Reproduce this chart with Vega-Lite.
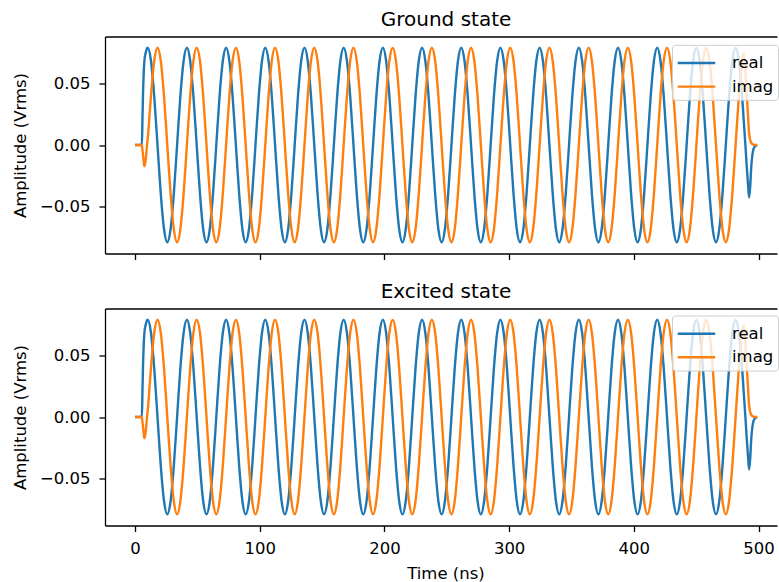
{
"$schema": "https://vega.github.io/schema/vega-lite/v6.json",
"background": "white",
"padding": {"left": 12, "top": 9.5, "right": 0, "bottom": 0},
"config": {
  "font": "DejaVu Sans",
  "view": {"stroke": null},
  "axis": {"domainColor": "#000", "tickColor": "#000", "labelColor": "#000", "titleColor": "#000", "labelFont": "DejaVu Sans", "titleFont": "DejaVu Sans", "labelFontSize": 16.5, "titleFontSize": 16.5, "titleFontWeight": "normal", "tickSize": 6, "grid": false, "domainWidth": 1.3, "tickWidth": 1.3},
  "legend": {"labelFont": "DejaVu Sans", "labelFontSize": 16.5, "labelColor": "#000"}
},
"datasets": {
"ground": [
{"t":0,"real":0,"imag":0},{"t":5.5,"real":0,"imag":0},{"t":6,"real":0.022,"imag":-0.004},{"t":6.5,"real":0.045,"imag":-0.009},{"t":7,"real":0.06,"imag":-0.014},{"t":7.6,"real":0.0695,"imag":-0.0175},{"t":8.6,"real":0.0755,"imag":-0.012},{"t":9.4,"real":0.0785,"imag":-0.003},
{"t":10.18,"real":0.0795,"imag":0.005},{"t":12.8,"real":0.0689,"imag":0.04},{"t":15.42,"real":0.0398,"imag":0.0689},{"t":18.04,"real":0,"imag":0.0795},{"t":20.66,"real":-0.0398,"imag":0.0689},{"t":23.28,"real":-0.0689,"imag":0.0398},{"t":25.89,"real":-0.0795,"imag":0},{"t":28.51,"real":-0.0689,"imag":-0.0398},{"t":31.13,"real":-0.0398,"imag":-0.0689},{"t":33.75,"real":0,"imag":-0.0795},{"t":36.37,"real":0.0398,"imag":-0.0689},{"t":38.99,"real":0.0689,"imag":-0.0398},
{"t":41.61,"real":0.0795,"imag":0},{"t":44.23,"real":0.0689,"imag":0.0398},{"t":46.85,"real":0.0398,"imag":0.0689},{"t":49.47,"real":0,"imag":0.0795},{"t":52.08,"real":-0.0398,"imag":0.0689},{"t":54.7,"real":-0.0689,"imag":0.0398},{"t":57.32,"real":-0.0795,"imag":0},{"t":59.94,"real":-0.0689,"imag":-0.0398},{"t":62.56,"real":-0.0398,"imag":-0.0689},{"t":65.18,"real":0,"imag":-0.0795},{"t":67.8,"real":0.0398,"imag":-0.0689},{"t":70.42,"real":0.0689,"imag":-0.0398},
{"t":73.04,"real":0.0795,"imag":0},{"t":75.66,"real":0.0689,"imag":0.0398},{"t":78.27,"real":0.0398,"imag":0.0689},{"t":80.89,"real":0,"imag":0.0795},{"t":83.51,"real":-0.0398,"imag":0.0689},{"t":86.13,"real":-0.0689,"imag":0.0398},{"t":88.75,"real":-0.0795,"imag":0},{"t":91.37,"real":-0.0689,"imag":-0.0398},{"t":93.99,"real":-0.0398,"imag":-0.0689},{"t":96.61,"real":0,"imag":-0.0795},{"t":99.23,"real":0.0398,"imag":-0.0689},{"t":101.85,"real":0.0689,"imag":-0.0398},
{"t":104.46,"real":0.0795,"imag":0},{"t":107.08,"real":0.0689,"imag":0.0398},{"t":109.7,"real":0.0398,"imag":0.0689},{"t":112.32,"real":0,"imag":0.0795},{"t":114.94,"real":-0.0398,"imag":0.0689},{"t":117.56,"real":-0.0689,"imag":0.0398},{"t":120.18,"real":-0.0795,"imag":0},{"t":122.8,"real":-0.0689,"imag":-0.0398},{"t":125.42,"real":-0.0398,"imag":-0.0689},{"t":128.04,"real":0,"imag":-0.0795},{"t":130.65,"real":0.0398,"imag":-0.0689},{"t":133.27,"real":0.0689,"imag":-0.0398},
{"t":135.89,"real":0.0795,"imag":0},{"t":138.51,"real":0.0689,"imag":0.0398},{"t":141.13,"real":0.0398,"imag":0.0689},{"t":143.75,"real":0,"imag":0.0795},{"t":146.37,"real":-0.0398,"imag":0.0689},{"t":148.99,"real":-0.0689,"imag":0.0398},{"t":151.61,"real":-0.0795,"imag":0},{"t":154.23,"real":-0.0689,"imag":-0.0398},{"t":156.84,"real":-0.0398,"imag":-0.0689},{"t":159.46,"real":0,"imag":-0.0795},{"t":162.08,"real":0.0398,"imag":-0.0689},{"t":164.7,"real":0.0689,"imag":-0.0398},
{"t":167.32,"real":0.0795,"imag":0},{"t":169.94,"real":0.0689,"imag":0.0398},{"t":172.56,"real":0.0398,"imag":0.0689},{"t":175.18,"real":0,"imag":0.0795},{"t":177.8,"real":-0.0398,"imag":0.0689},{"t":180.42,"real":-0.0689,"imag":0.0398},{"t":183.03,"real":-0.0795,"imag":0},{"t":185.65,"real":-0.0689,"imag":-0.0398},{"t":188.27,"real":-0.0398,"imag":-0.0689},{"t":190.89,"real":0,"imag":-0.0795},{"t":193.51,"real":0.0398,"imag":-0.0689},{"t":196.13,"real":0.0689,"imag":-0.0398},
{"t":198.75,"real":0.0795,"imag":0},{"t":201.37,"real":0.0689,"imag":0.0398},{"t":203.99,"real":0.0398,"imag":0.0689},{"t":206.61,"real":0,"imag":0.0795},{"t":209.22,"real":-0.0398,"imag":0.0689},{"t":211.84,"real":-0.0689,"imag":0.0398},{"t":214.46,"real":-0.0795,"imag":0},{"t":217.08,"real":-0.0689,"imag":-0.0398},{"t":219.7,"real":-0.0398,"imag":-0.0689},{"t":222.32,"real":0,"imag":-0.0795},{"t":224.94,"real":0.0398,"imag":-0.0689},{"t":227.56,"real":0.0689,"imag":-0.0398},
{"t":230.18,"real":0.0795,"imag":0},{"t":232.8,"real":0.0689,"imag":0.0398},{"t":235.41,"real":0.0398,"imag":0.0689},{"t":238.03,"real":0,"imag":0.0795},{"t":240.65,"real":-0.0398,"imag":0.0689},{"t":243.27,"real":-0.0689,"imag":0.0398},{"t":245.89,"real":-0.0795,"imag":0},{"t":248.51,"real":-0.0689,"imag":-0.0398},{"t":251.13,"real":-0.0398,"imag":-0.0689},{"t":253.75,"real":0,"imag":-0.0795},{"t":256.37,"real":0.0398,"imag":-0.0689},{"t":258.99,"real":0.0689,"imag":-0.0398},
{"t":261.6,"real":0.0795,"imag":0},{"t":264.22,"real":0.0689,"imag":0.0398},{"t":266.84,"real":0.0398,"imag":0.0689},{"t":269.46,"real":0,"imag":0.0795},{"t":272.08,"real":-0.0398,"imag":0.0689},{"t":274.7,"real":-0.0689,"imag":0.0398},{"t":277.32,"real":-0.0795,"imag":0},{"t":279.94,"real":-0.0689,"imag":-0.0398},{"t":282.56,"real":-0.0398,"imag":-0.0689},{"t":285.18,"real":0,"imag":-0.0795},{"t":287.79,"real":0.0398,"imag":-0.0689},{"t":290.41,"real":0.0689,"imag":-0.0398},
{"t":293.03,"real":0.0795,"imag":0},{"t":295.65,"real":0.0689,"imag":0.0398},{"t":298.27,"real":0.0398,"imag":0.0689},{"t":300.89,"real":0,"imag":0.0795},{"t":303.51,"real":-0.0398,"imag":0.0689},{"t":306.13,"real":-0.0689,"imag":0.0398},{"t":308.75,"real":-0.0795,"imag":0},{"t":311.37,"real":-0.0689,"imag":-0.0398},{"t":313.98,"real":-0.0398,"imag":-0.0689},{"t":316.6,"real":0,"imag":-0.0795},{"t":319.22,"real":0.0398,"imag":-0.0689},{"t":321.84,"real":0.0689,"imag":-0.0398},
{"t":324.46,"real":0.0795,"imag":0},{"t":327.08,"real":0.0689,"imag":0.0398},{"t":329.7,"real":0.0398,"imag":0.0689},{"t":332.32,"real":0,"imag":0.0795},{"t":334.94,"real":-0.0398,"imag":0.0689},{"t":337.56,"real":-0.0689,"imag":0.0398},{"t":340.17,"real":-0.0795,"imag":0},{"t":342.79,"real":-0.0689,"imag":-0.0398},{"t":345.41,"real":-0.0398,"imag":-0.0689},{"t":348.03,"real":0,"imag":-0.0795},{"t":350.65,"real":0.0398,"imag":-0.0689},{"t":353.27,"real":0.0689,"imag":-0.0398},
{"t":355.89,"real":0.0795,"imag":0},{"t":358.51,"real":0.0689,"imag":0.0398},{"t":361.13,"real":0.0398,"imag":0.0689},{"t":363.75,"real":0,"imag":0.0795},{"t":366.36,"real":-0.0398,"imag":0.0689},{"t":368.98,"real":-0.0689,"imag":0.0398},{"t":371.6,"real":-0.0795,"imag":0},{"t":374.22,"real":-0.0689,"imag":-0.0398},{"t":376.84,"real":-0.0398,"imag":-0.0689},{"t":379.46,"real":0,"imag":-0.0795},{"t":382.08,"real":0.0398,"imag":-0.0689},{"t":384.7,"real":0.0689,"imag":-0.0398},
{"t":387.32,"real":0.0795,"imag":0},{"t":389.94,"real":0.0689,"imag":0.0398},{"t":392.55,"real":0.0398,"imag":0.0689},{"t":395.17,"real":0,"imag":0.0795},{"t":397.79,"real":-0.0398,"imag":0.0689},{"t":400.41,"real":-0.0689,"imag":0.0398},{"t":403.03,"real":-0.0795,"imag":0},{"t":405.65,"real":-0.0689,"imag":-0.0398},{"t":408.27,"real":-0.0398,"imag":-0.0689},{"t":410.89,"real":0,"imag":-0.0795},{"t":413.51,"real":0.0398,"imag":-0.0689},{"t":416.13,"real":0.0689,"imag":-0.0398},
{"t":418.74,"real":0.0795,"imag":0},{"t":421.36,"real":0.0689,"imag":0.0398},{"t":423.98,"real":0.0398,"imag":0.0689},{"t":426.6,"real":0,"imag":0.0795},{"t":429.22,"real":-0.0398,"imag":0.0689},{"t":431.84,"real":-0.0689,"imag":0.0398},{"t":434.46,"real":-0.0795,"imag":0},{"t":437.08,"real":-0.0689,"imag":-0.0398},{"t":439.7,"real":-0.0398,"imag":-0.0689},{"t":442.32,"real":0,"imag":-0.0795},{"t":444.93,"real":0.0398,"imag":-0.0689},{"t":447.55,"real":0.0689,"imag":-0.0398},
{"t":450.17,"real":0.0795,"imag":0},{"t":452.79,"real":0.0689,"imag":0.0398},{"t":455.41,"real":0.0398,"imag":0.0689},{"t":458.03,"real":0,"imag":0.0795},{"t":460.65,"real":-0.0398,"imag":0.0689},{"t":463.27,"real":-0.0689,"imag":0.0398},{"t":465.89,"real":-0.0795,"imag":0},{"t":468.51,"real":-0.0689,"imag":-0.0398},{"t":471.12,"real":-0.0398,"imag":-0.0689},{"t":473.74,"real":0,"imag":-0.0795},{"t":476.36,"real":0.0398,"imag":-0.0689},{"t":478.98,"real":0.0689,"imag":-0.0398},
{"t":481.6,"real":0.0795,"imag":0},{"t":484.22,"real":0.0689,"imag":0.0398},{"t":486.84,"real":0.0398,"imag":0.0689},{"t":488,"real":0.022,"imag":0.075},{"t":489.46,"real":0,"imag":0.06},{"t":490.5,"real":-0.017,"imag":0.042},{"t":491.5,"real":-0.031,"imag":0.025},{"t":492.4,"real":-0.043,"imag":0.01},{"t":493.3,"real":-0.034,"imag":0.004},{"t":494.2,"real":-0.017,"imag":0.0018},{"t":495.2,"real":-0.007,"imag":0.0006},{"t":496.5,"real":-0.002,"imag":0.0002},{"t":499,"real":0,"imag":0}
],
"excited": [
{"t":0,"real":0,"imag":0},{"t":5.5,"real":0,"imag":0},{"t":6,"real":0.022,"imag":-0.004},{"t":6.5,"real":0.045,"imag":-0.009},{"t":7,"real":0.06,"imag":-0.014},{"t":7.6,"real":0.0695,"imag":-0.0175},{"t":8.6,"real":0.0755,"imag":-0.012},{"t":9.4,"real":0.0785,"imag":-0.003},
{"t":10.18,"real":0.0795,"imag":0.005},{"t":12.8,"real":0.0689,"imag":0.04},{"t":15.42,"real":0.0398,"imag":0.0689},{"t":18.04,"real":0,"imag":0.0795},{"t":20.66,"real":-0.0398,"imag":0.0689},{"t":23.28,"real":-0.0689,"imag":0.0398},{"t":25.89,"real":-0.0795,"imag":0},{"t":28.51,"real":-0.0689,"imag":-0.0398},{"t":31.13,"real":-0.0398,"imag":-0.0689},{"t":33.75,"real":0,"imag":-0.0795},{"t":36.37,"real":0.0398,"imag":-0.0689},{"t":38.99,"real":0.0689,"imag":-0.0398},
{"t":41.61,"real":0.0795,"imag":0},{"t":44.23,"real":0.0689,"imag":0.0398},{"t":46.85,"real":0.0398,"imag":0.0689},{"t":49.47,"real":0,"imag":0.0795},{"t":52.08,"real":-0.0398,"imag":0.0689},{"t":54.7,"real":-0.0689,"imag":0.0398},{"t":57.32,"real":-0.0795,"imag":0},{"t":59.94,"real":-0.0689,"imag":-0.0398},{"t":62.56,"real":-0.0398,"imag":-0.0689},{"t":65.18,"real":0,"imag":-0.0795},{"t":67.8,"real":0.0398,"imag":-0.0689},{"t":70.42,"real":0.0689,"imag":-0.0398},
{"t":73.04,"real":0.0795,"imag":0},{"t":75.66,"real":0.0689,"imag":0.0398},{"t":78.27,"real":0.0398,"imag":0.0689},{"t":80.89,"real":0,"imag":0.0795},{"t":83.51,"real":-0.0398,"imag":0.0689},{"t":86.13,"real":-0.0689,"imag":0.0398},{"t":88.75,"real":-0.0795,"imag":0},{"t":91.37,"real":-0.0689,"imag":-0.0398},{"t":93.99,"real":-0.0398,"imag":-0.0689},{"t":96.61,"real":0,"imag":-0.0795},{"t":99.23,"real":0.0398,"imag":-0.0689},{"t":101.85,"real":0.0689,"imag":-0.0398},
{"t":104.46,"real":0.0795,"imag":0},{"t":107.08,"real":0.0689,"imag":0.0398},{"t":109.7,"real":0.0398,"imag":0.0689},{"t":112.32,"real":0,"imag":0.0795},{"t":114.94,"real":-0.0398,"imag":0.0689},{"t":117.56,"real":-0.0689,"imag":0.0398},{"t":120.18,"real":-0.0795,"imag":0},{"t":122.8,"real":-0.0689,"imag":-0.0398},{"t":125.42,"real":-0.0398,"imag":-0.0689},{"t":128.04,"real":0,"imag":-0.0795},{"t":130.65,"real":0.0398,"imag":-0.0689},{"t":133.27,"real":0.0689,"imag":-0.0398},
{"t":135.89,"real":0.0795,"imag":0},{"t":138.51,"real":0.0689,"imag":0.0398},{"t":141.13,"real":0.0398,"imag":0.0689},{"t":143.75,"real":0,"imag":0.0795},{"t":146.37,"real":-0.0398,"imag":0.0689},{"t":148.99,"real":-0.0689,"imag":0.0398},{"t":151.61,"real":-0.0795,"imag":0},{"t":154.23,"real":-0.0689,"imag":-0.0398},{"t":156.84,"real":-0.0398,"imag":-0.0689},{"t":159.46,"real":0,"imag":-0.0795},{"t":162.08,"real":0.0398,"imag":-0.0689},{"t":164.7,"real":0.0689,"imag":-0.0398},
{"t":167.32,"real":0.0795,"imag":0},{"t":169.94,"real":0.0689,"imag":0.0398},{"t":172.56,"real":0.0398,"imag":0.0689},{"t":175.18,"real":0,"imag":0.0795},{"t":177.8,"real":-0.0398,"imag":0.0689},{"t":180.42,"real":-0.0689,"imag":0.0398},{"t":183.03,"real":-0.0795,"imag":0},{"t":185.65,"real":-0.0689,"imag":-0.0398},{"t":188.27,"real":-0.0398,"imag":-0.0689},{"t":190.89,"real":0,"imag":-0.0795},{"t":193.51,"real":0.0398,"imag":-0.0689},{"t":196.13,"real":0.0689,"imag":-0.0398},
{"t":198.75,"real":0.0795,"imag":0},{"t":201.37,"real":0.0689,"imag":0.0398},{"t":203.99,"real":0.0398,"imag":0.0689},{"t":206.61,"real":0,"imag":0.0795},{"t":209.22,"real":-0.0398,"imag":0.0689},{"t":211.84,"real":-0.0689,"imag":0.0398},{"t":214.46,"real":-0.0795,"imag":0},{"t":217.08,"real":-0.0689,"imag":-0.0398},{"t":219.7,"real":-0.0398,"imag":-0.0689},{"t":222.32,"real":0,"imag":-0.0795},{"t":224.94,"real":0.0398,"imag":-0.0689},{"t":227.56,"real":0.0689,"imag":-0.0398},
{"t":230.18,"real":0.0795,"imag":0},{"t":232.8,"real":0.0689,"imag":0.0398},{"t":235.41,"real":0.0398,"imag":0.0689},{"t":238.03,"real":0,"imag":0.0795},{"t":240.65,"real":-0.0398,"imag":0.0689},{"t":243.27,"real":-0.0689,"imag":0.0398},{"t":245.89,"real":-0.0795,"imag":0},{"t":248.51,"real":-0.0689,"imag":-0.0398},{"t":251.13,"real":-0.0398,"imag":-0.0689},{"t":253.75,"real":0,"imag":-0.0795},{"t":256.37,"real":0.0398,"imag":-0.0689},{"t":258.99,"real":0.0689,"imag":-0.0398},
{"t":261.6,"real":0.0795,"imag":0},{"t":264.22,"real":0.0689,"imag":0.0398},{"t":266.84,"real":0.0398,"imag":0.0689},{"t":269.46,"real":0,"imag":0.0795},{"t":272.08,"real":-0.0398,"imag":0.0689},{"t":274.7,"real":-0.0689,"imag":0.0398},{"t":277.32,"real":-0.0795,"imag":0},{"t":279.94,"real":-0.0689,"imag":-0.0398},{"t":282.56,"real":-0.0398,"imag":-0.0689},{"t":285.18,"real":0,"imag":-0.0795},{"t":287.79,"real":0.0398,"imag":-0.0689},{"t":290.41,"real":0.0689,"imag":-0.0398},
{"t":293.03,"real":0.0795,"imag":0},{"t":295.65,"real":0.0689,"imag":0.0398},{"t":298.27,"real":0.0398,"imag":0.0689},{"t":300.89,"real":0,"imag":0.0795},{"t":303.51,"real":-0.0398,"imag":0.0689},{"t":306.13,"real":-0.0689,"imag":0.0398},{"t":308.75,"real":-0.0795,"imag":0},{"t":311.37,"real":-0.0689,"imag":-0.0398},{"t":313.98,"real":-0.0398,"imag":-0.0689},{"t":316.6,"real":0,"imag":-0.0795},{"t":319.22,"real":0.0398,"imag":-0.0689},{"t":321.84,"real":0.0689,"imag":-0.0398},
{"t":324.46,"real":0.0795,"imag":0},{"t":327.08,"real":0.0689,"imag":0.0398},{"t":329.7,"real":0.0398,"imag":0.0689},{"t":332.32,"real":0,"imag":0.0795},{"t":334.94,"real":-0.0398,"imag":0.0689},{"t":337.56,"real":-0.0689,"imag":0.0398},{"t":340.17,"real":-0.0795,"imag":0},{"t":342.79,"real":-0.0689,"imag":-0.0398},{"t":345.41,"real":-0.0398,"imag":-0.0689},{"t":348.03,"real":0,"imag":-0.0795},{"t":350.65,"real":0.0398,"imag":-0.0689},{"t":353.27,"real":0.0689,"imag":-0.0398},
{"t":355.89,"real":0.0795,"imag":0},{"t":358.51,"real":0.0689,"imag":0.0398},{"t":361.13,"real":0.0398,"imag":0.0689},{"t":363.75,"real":0,"imag":0.0795},{"t":366.36,"real":-0.0398,"imag":0.0689},{"t":368.98,"real":-0.0689,"imag":0.0398},{"t":371.6,"real":-0.0795,"imag":0},{"t":374.22,"real":-0.0689,"imag":-0.0398},{"t":376.84,"real":-0.0398,"imag":-0.0689},{"t":379.46,"real":0,"imag":-0.0795},{"t":382.08,"real":0.0398,"imag":-0.0689},{"t":384.7,"real":0.0689,"imag":-0.0398},
{"t":387.32,"real":0.0795,"imag":0},{"t":389.94,"real":0.0689,"imag":0.0398},{"t":392.55,"real":0.0398,"imag":0.0689},{"t":395.17,"real":0,"imag":0.0795},{"t":397.79,"real":-0.0398,"imag":0.0689},{"t":400.41,"real":-0.0689,"imag":0.0398},{"t":403.03,"real":-0.0795,"imag":0},{"t":405.65,"real":-0.0689,"imag":-0.0398},{"t":408.27,"real":-0.0398,"imag":-0.0689},{"t":410.89,"real":0,"imag":-0.0795},{"t":413.51,"real":0.0398,"imag":-0.0689},{"t":416.13,"real":0.0689,"imag":-0.0398},
{"t":418.74,"real":0.0795,"imag":0},{"t":421.36,"real":0.0689,"imag":0.0398},{"t":423.98,"real":0.0398,"imag":0.0689},{"t":426.6,"real":0,"imag":0.0795},{"t":429.22,"real":-0.0398,"imag":0.0689},{"t":431.84,"real":-0.0689,"imag":0.0398},{"t":434.46,"real":-0.0795,"imag":0},{"t":437.08,"real":-0.0689,"imag":-0.0398},{"t":439.7,"real":-0.0398,"imag":-0.0689},{"t":442.32,"real":0,"imag":-0.0795},{"t":444.93,"real":0.0398,"imag":-0.0689},{"t":447.55,"real":0.0689,"imag":-0.0398},
{"t":450.17,"real":0.0795,"imag":0},{"t":452.79,"real":0.0689,"imag":0.0398},{"t":455.41,"real":0.0398,"imag":0.0689},{"t":458.03,"real":0,"imag":0.0795},{"t":460.65,"real":-0.0398,"imag":0.0689},{"t":463.27,"real":-0.0689,"imag":0.0398},{"t":465.89,"real":-0.0795,"imag":0},{"t":468.51,"real":-0.0689,"imag":-0.0398},{"t":471.12,"real":-0.0398,"imag":-0.0689},{"t":473.74,"real":0,"imag":-0.0795},{"t":476.36,"real":0.0398,"imag":-0.0689},{"t":478.98,"real":0.0689,"imag":-0.0398},
{"t":481.6,"real":0.0795,"imag":0},{"t":484.22,"real":0.0689,"imag":0.0398},{"t":486.84,"real":0.0398,"imag":0.0689},{"t":488,"real":0.022,"imag":0.075},{"t":489.46,"real":0,"imag":0.06},{"t":490.5,"real":-0.017,"imag":0.042},{"t":491.5,"real":-0.031,"imag":0.025},{"t":492.4,"real":-0.043,"imag":0.01},{"t":493.3,"real":-0.034,"imag":0.004},{"t":494.2,"real":-0.017,"imag":0.0018},{"t":495.2,"real":-0.007,"imag":0.0006},{"t":496.5,"real":-0.002,"imag":0.0002},{"t":499,"real":0,"imag":0}
]
},
"spacing": 21,
"resolve": {"scale": {"color": "independent"}, "legend": {"color": "independent"}},
"vconcat": [
{
  "data": {"name": "ground"},
  "title": {"text": "Ground state", "fontSize": 20, "font": "DejaVu Sans", "fontWeight": "normal", "color": "#000", "baseline": "bottom", "offset": -13, "anchor": "middle", "dx": 5},
  "width": 672, "height": 217,
  "resolve": {"axis": {"x": "independent"}},
  "layer": [
    {"mark": {"type": "line", "interpolate": "monotone", "strokeWidth": 2.4, "clip": true},
     "encoding": {
       "x": {"field": "t", "type": "quantitative", "scale": {"domain": [-24.06, 514.8], "nice": false, "zero": false}, "axis": {"values": [0,100,200,300,400,500], "labels": false, "title": null}},
       "y": {"field": "real", "type": "quantitative", "scale": {"domain": [-0.0887, 0.0887], "nice": false, "zero": false}, "axis": {"values": [-0.05, 0, 0.05], "format": ".2f", "title": "Amplitude (Vrms)", "titlePadding": 11, "labelPadding": 9}},
       "color": {"datum": "real", "type": "nominal", "scale": {"domain": ["real", "imag"], "range": ["#1f77b4", "#ff7f0e"]}, "legend": {"orient": "none", "legendX": 567, "legendY": 8.3, "title": null, "symbolType": "M-1,0H2", "symbolSize": 625, "symbolStrokeWidth": 2.4, "padding": 4.2, "rowPadding": 0.6, "labelOffset": 27.8, "fillColor": "rgba(255,255,255,0.8)", "strokeColor": "#cccccc", "cornerRadius": 3}}
     }},
    {"mark": {"type": "line", "interpolate": "monotone", "strokeWidth": 2.4, "clip": true},
     "encoding": {
       "x": {"field": "t", "type": "quantitative", "scale": {"domain": [-24.06, 514.8], "nice": false, "zero": false}, "axis": {"orient": "top", "ticks": false, "labels": false, "title": null, "domain": true, "tickSize": 0, "labelPadding": 0, "minExtent": 0, "maxExtent": 0}},
       "y": {"field": "imag", "type": "quantitative", "scale": {"domain": [-0.0887, 0.0887], "nice": false, "zero": false}, "axis": {"values": [-0.05, 0, 0.05], "format": ".2f", "title": "Amplitude (Vrms)", "titlePadding": 11, "labelPadding": 9}},
       "color": {"datum": "imag", "type": "nominal", "scale": {"domain": ["real", "imag"], "range": ["#1f77b4", "#ff7f0e"]}, "legend": {"orient": "none", "legendX": 567, "legendY": 8.3, "title": null, "symbolType": "M-1,0H2", "symbolSize": 625, "symbolStrokeWidth": 2.4, "padding": 4.2, "rowPadding": 0.6, "labelOffset": 27.8, "fillColor": "rgba(255,255,255,0.8)", "strokeColor": "#cccccc", "cornerRadius": 3}}
     }}
  ]
},
{
  "data": {"name": "excited"},
  "title": {"text": "Excited state", "fontSize": 20, "font": "DejaVu Sans", "fontWeight": "normal", "color": "#000", "baseline": "bottom", "offset": -13, "anchor": "middle", "dx": 5},
  "width": 672, "height": 217,
  "resolve": {"axis": {"x": "independent"}},
  "layer": [
    {"mark": {"type": "line", "interpolate": "monotone", "strokeWidth": 2.4, "clip": true},
     "encoding": {
       "x": {"field": "t", "type": "quantitative", "scale": {"domain": [-24.06, 514.8], "nice": false, "zero": false}, "axis": {"values": [0,100,200,300,400,500], "title": "Time (ns)", "labelPadding": 8.5, "titlePadding": 9, "titleX": 340.5}},
       "y": {"field": "real", "type": "quantitative", "scale": {"domain": [-0.0887, 0.0887], "nice": false, "zero": false}, "axis": {"values": [-0.05, 0, 0.05], "format": ".2f", "title": "Amplitude (Vrms)", "titlePadding": 11, "labelPadding": 9}},
       "color": {"datum": "real", "type": "nominal", "scale": {"domain": ["real", "imag"], "range": ["#1f77b4", "#ff7f0e"]}, "legend": {"orient": "none", "legendX": 567, "legendY": 7, "title": null, "symbolType": "M-1,0H2", "symbolSize": 625, "symbolStrokeWidth": 2.4, "padding": 4.2, "rowPadding": 0.6, "labelOffset": 27.8, "fillColor": "rgba(255,255,255,0.8)", "strokeColor": "#cccccc", "cornerRadius": 3}}
     }},
    {"mark": {"type": "line", "interpolate": "monotone", "strokeWidth": 2.4, "clip": true},
     "encoding": {
       "x": {"field": "t", "type": "quantitative", "scale": {"domain": [-24.06, 514.8], "nice": false, "zero": false}, "axis": {"orient": "top", "ticks": false, "labels": false, "title": null, "domain": true, "tickSize": 0, "labelPadding": 0, "minExtent": 0, "maxExtent": 0}},
       "y": {"field": "imag", "type": "quantitative", "scale": {"domain": [-0.0887, 0.0887], "nice": false, "zero": false}, "axis": {"values": [-0.05, 0, 0.05], "format": ".2f", "title": "Amplitude (Vrms)", "titlePadding": 11, "labelPadding": 9}},
       "color": {"datum": "imag", "type": "nominal", "scale": {"domain": ["real", "imag"], "range": ["#1f77b4", "#ff7f0e"]}, "legend": {"orient": "none", "legendX": 567, "legendY": 7, "title": null, "symbolType": "M-1,0H2", "symbolSize": 625, "symbolStrokeWidth": 2.4, "padding": 4.2, "rowPadding": 0.6, "labelOffset": 27.8, "fillColor": "rgba(255,255,255,0.8)", "strokeColor": "#cccccc", "cornerRadius": 3}}
     }}
  ]
}
]
}
